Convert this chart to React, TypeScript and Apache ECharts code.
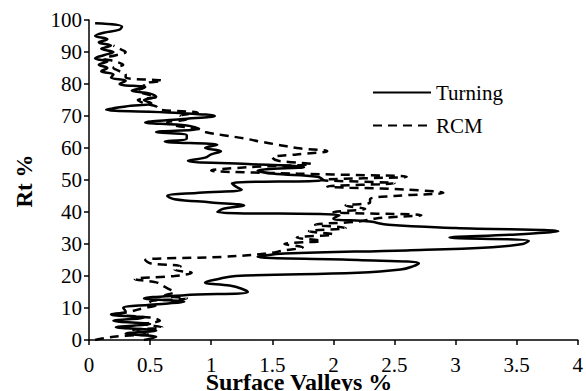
import React, { useEffect, useRef } from "react";
import * as echarts from "echarts";

const xTicks = ["0", "0.5", "1", "1.5", "2", "2.5", "3", "3.5", "4"];
const yTicks = ["0", "10", "20", "30", "40", "50", "60", "70", "80", "90", "100"];

const turningRt = [
  0, 1, 2, 3, 4, 5, 6, 7, 8, 9, 10, 11, 12, 13, 14, 15, 16, 17, 18, 19,
  20, 21, 22, 23, 24, 25, 26, 27, 28, 29, 30, 31, 32, 33, 34, 35, 36, 37, 38, 39,
  40, 41, 42, 43, 44, 45, 46, 47, 48, 49, 50, 51, 52, 53, 54, 55, 56, 57, 58, 59,
  60, 61, 62, 63, 64, 65, 66, 67, 68, 69, 70, 71, 72, 73, 74, 75, 76, 77, 78, 79,
  80, 81, 82, 83, 84, 85, 86, 87, 88, 89, 90, 91, 92, 93, 94, 95, 96, 97, 98, 99,
];
const turningValleys = [
  0.45, 0.55, 0.3, 0.55, 0.22, 0.5, 0.2, 0.45, 0.18, 0.3, 0.28, 0.5, 0.78, 0.45, 0.78, 1.3, 1.25, 1.15, 0.95, 1.05,
  1.2, 2.2, 2.55, 2.65, 2.7, 2.2, 1.38, 1.6, 2.6, 3.3, 3.55, 3.6, 2.95, 3.5, 3.84, 3.0, 2.45, 2.3, 2.0, 2.05,
  1.05, 1.1, 1.27, 1.0, 0.7, 0.64, 0.9, 1.25, 1.2, 1.17, 1.92, 1.87, 1.5, 1.38, 1.76, 1.3, 0.81, 0.95, 1.0, 1.08,
  0.95, 1.05, 0.62, 0.8, 0.8, 0.55, 0.9, 0.8, 0.46, 0.75, 1.03, 0.7, 0.14, 0.3, 0.51, 0.45, 0.55, 0.5, 0.35, 0.46,
  0.25, 0.3, 0.18, 0.2, 0.1, 0.15, 0.08, 0.15, 0.05, 0.12, 0.2, 0.1, 0.18, 0.08, 0.15, 0.05, 0.12, 0.25, 0.27, 0.05,
];

const rcmRt = [
  0, 1, 2, 3, 4, 5, 6, 7, 8, 9, 10, 11, 12, 13, 14, 15, 16, 17, 18, 19,
  20, 21, 22, 23, 24, 25, 26, 27, 28, 29, 30, 31, 32, 33, 34, 35, 36, 37, 38, 39,
  40, 41, 42, 43, 44, 45, 46, 47, 48, 49, 50, 51, 52, 53, 54, 55, 56, 57, 58, 59,
  60, 61, 62, 63, 64, 65, 66, 67, 68, 69, 70, 71, 72, 73, 74, 75, 76, 77, 78, 79,
  80, 81, 82, 83, 84, 85, 86, 87, 88, 89, 90, 91, 92,
];
const rcmValleys = [
  0.05, 0.2, 0.5, 0.35, 0.6, 0.45, 0.58, 0.5, 0.25, 0.35, 0.45, 0.55, 0.5, 0.8, 0.62, 0.7, 0.65, 0.6, 0.55, 0.375,
  0.7, 0.84, 0.7, 0.75, 0.5, 0.46, 1.1, 1.45, 1.6, 1.75, 1.6, 1.9, 1.7, 2.0, 1.8, 2.1, 1.85, 2.2, 2.35, 2.72,
  2.0, 2.26, 2.1, 2.3, 2.3, 2.5, 2.9, 2.6, 1.95, 2.5, 1.9, 2.6, 1.7, 1.0, 1.3, 1.82, 1.55, 1.5, 1.7, 1.95,
  1.7, 1.55, 1.4, 1.27, 1.1, 0.95, 0.89, 0.7, 0.64, 0.8, 0.75, 0.89, 0.58, 0.55, 0.45, 0.4, 0.55, 0.45, 0.4, 0.45,
  0.45, 0.6, 0.3, 0.3, 0.25, 0.2, 0.28, 0.22, 0.12, 0.22, 0.3, 0.25, 0.2,
];

const seriesNames = ["Turning", "RCM"];

const FONT = "Liberation Serif";

export default function App() {
  const ref = useRef<HTMLDivElement>(null);

  useEffect(() => {
    if (!ref.current) return;
    const chart = echarts.init(ref.current, null, { renderer: "svg" });
    const turningData = turningRt.map((y, i) => [turningValleys[i], y]);
    const rcmData = rcmRt.map((y, i) => [rcmValleys[i], y]);

    chart.setOption({
      animation: false,
      backgroundColor: "#ffffff",
      textStyle: { fontFamily: FONT, color: "#000" },
      grid: { left: 89, right: 8, top: 20, bottom: 51, containLabel: false },
      legend: {
        data: seriesNames,
        orient: "vertical",
        left: 367,
        top: 77,
        itemWidth: 58,
        itemHeight: 14,
        itemGap: 12,
        itemStyle: { opacity: 0 },
        textStyle: { fontFamily: FONT, fontSize: 21, color: "#000" },
      },
      xAxis: {
        type: "value",
        min: 0,
        max: 4,
        interval: 0.5,
        splitLine: { show: false },
        axisLine: { show: true, onZero: false, lineStyle: { color: "#000", width: 1.5 } },
        axisTick: { show: true, length: 5, lineStyle: { color: "#000", width: 1.5 } },
        axisLabel: {
          margin: 14,
          fontFamily: FONT,
          fontSize: 21,
          color: "#000",
          formatter: (v: number) => xTicks[Math.round(v / 0.5)] ?? String(v),
        },
      },
      yAxis: {
        type: "value",
        min: 0,
        max: 100,
        interval: 10,
        splitLine: { show: false },
        axisLine: { show: true, onZero: false, lineStyle: { color: "#000", width: 1.5 } },
        axisTick: { show: true, length: 5, lineStyle: { color: "#000", width: 1.5 } },
        axisLabel: {
          margin: 7,
          fontFamily: FONT,
          fontSize: 21,
          color: "#000",
          formatter: (v: number) => yTicks[Math.round(v / 10)] ?? String(v),
        },
      },
      graphic: [
        {
          type: "text",
          x: 24,
          y: 181,
          rotation: Math.PI / 2,
          style: {
            text: "Rt %",
            fontFamily: FONT,
            fontSize: 23,
            fontWeight: "bold",
            fill: "#000",
            align: "center",
            verticalAlign: "middle",
          },
        },
        {
          type: "text",
          x: 299,
          y: 382,
          style: {
            text: "Surface Valleys %",
            fontFamily: FONT,
            fontSize: 24,
            fontWeight: "bold",
            fill: "#000",
            align: "center",
            verticalAlign: "middle",
          },
        },
      ],
      series: [
        {
          name: seriesNames[0],
          type: "line",
          data: turningData,
          symbol: "none",
          smooth: 0.4,
          lineStyle: { color: "#000", width: 2.5, type: "solid" },
          itemStyle: { color: "#000" },
        },
        {
          name: seriesNames[1],
          type: "line",
          data: rcmData,
          symbol: "none",
          smooth: 0.4,
          lineStyle: { color: "#000", width: 2.5, type: [9, 6] },
          itemStyle: { color: "#000" },
        },
      ],
    });
    return () => chart.dispose();
  }, []);

  return <div ref={ref} style={{ width: 586, height: 391, position: "absolute", left: 0, top: 0 }} />;
}
